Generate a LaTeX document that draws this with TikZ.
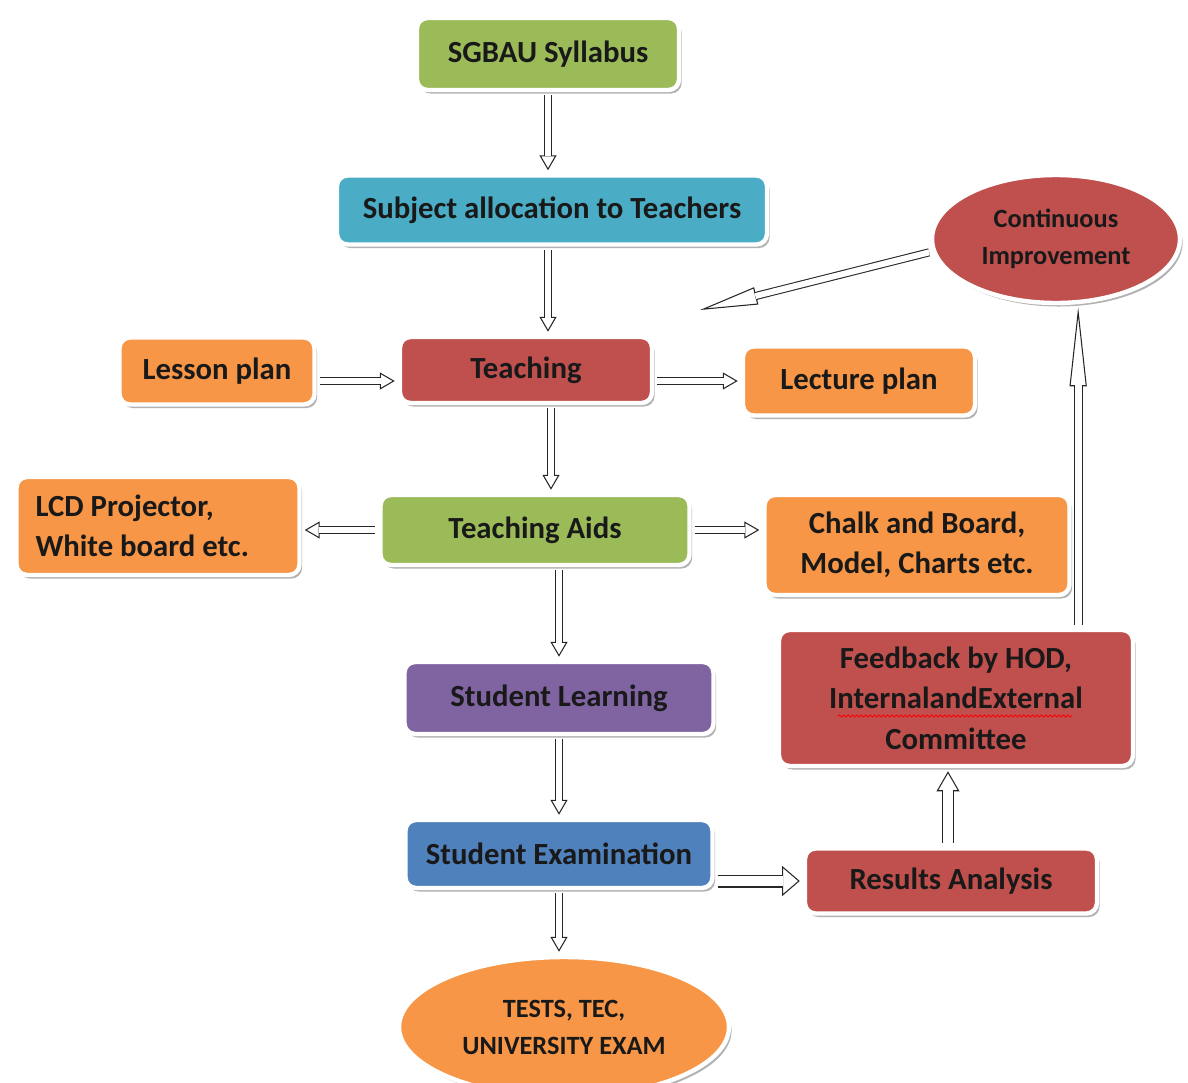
\documentclass[tikz,border=0pt]{standalone}
\usepackage{fontspec}
\setmainfont{Carlito}
\usepackage{xcolor}
\usepackage{tikz}
\usetikzlibrary{shapes,arrows.meta,positioning,calc,shadows,decorations.pathmorphing}

\definecolor{ogreen}{HTML}{9BBB59}
\definecolor{oaqua}{HTML}{4BACC6}
\definecolor{ored}{HTML}{C0504D}
\definecolor{oorange}{HTML}{F79646}
\definecolor{opurple}{HTML}{8064A2}
\definecolor{oblue}{HTML}{4F81BD}

\begin{document}
\begin{tikzpicture}[x=0.02cm,y=-0.02cm,
  box/.style={draw=white, line width=2.5pt, rounded corners=6pt, text=black!90,
    font=\fontsize{17.5}{23}\selectfont\bfseries, align=center, inner sep=2pt, outer sep=3pt,
    drop shadow={shadow xshift=1.5pt, shadow yshift=-2pt, opacity=0.3, fill=black}},
  oval/.style={box, ellipse, sharp corners, inner sep=0pt, font=\fontsize{15}{21}\selectfont\bfseries},
  blk/.style args={#1/#2/#3}{draw=none,
    postaction={draw, line width=0.6pt, black!85, -{Triangle[length=#3, width=#2, fill=white]}},
    postaction={draw, line width=0.6pt, black!85, double=white, double distance=#1, shorten >=#3-0.5pt}},
  blk/.default=3.9pt/9.7pt/8.5pt]
\useasboundingbox (0,0) rectangle (1188,1083);

% Main column
\node[box, fill=ogreen, minimum width=5.24cm, minimum height=1.44cm] (syl) at (548,54) {SGBAU Syllabus};
\node[box, fill=oaqua, minimum width=8.6cm, minimum height=1.38cm] (subj) at (552,210) {Subject allocation to Teachers};
\node[box, fill=ored, minimum width=5.04cm, minimum height=1.32cm] (teach) at (526,370) {Teaching};
\node[box, fill=ogreen, minimum width=6.18cm, minimum height=1.4cm] (aids) at (535,530) {Teaching Aids};
\node[box, fill=opurple, minimum width=6.18cm, minimum height=1.44cm] (learn) at (559,698) {Student Learning};
\node[box, fill=oblue, minimum width=6.14cm, minimum height=1.36cm] (exam) at (559,854) {Student Examination};
\node[oval, fill=oorange, minimum width=6.6cm, minimum height=2.8cm] (tests) at (564,1027) {TESTS, TEC,\\UNIVERSITY EXAM};

% Side boxes
\node[box, fill=oorange, minimum width=3.9cm, minimum height=1.34cm] (lesson) at (217,371) {Lesson plan};
\node[box, fill=oorange, minimum width=4.64cm, minimum height=1.38cm] (lecture) at (859,381) {Lecture plan};
\node[box, fill=oorange, minimum height=1.96cm, text width=4.9cm, inner xsep=0.38cm, align=flush left] (lcd) at (158,526) {LCD Projector,\\White board etc.};
\node[box, fill=oorange, minimum width=6.1cm, minimum height=2cm] (chalk) at (917,545) {Chalk and Board,\\Model, Charts etc.};

% Feedback loop
\node[box, fill=ored, minimum width=5.84cm, minimum height=1.3cm] (result) at (951,881) {Results Analysis};
\node[box, fill=ored, minimum width=7.08cm, minimum height=2.72cm] (feed) at (956,698) {Feedback by HOD,\\InternalandExternal\\Committee};
\node[oval, fill=ored, minimum width=4.96cm, minimum height=2.56cm] (cont) at (1056,239) {Continuous\\Improvement};
\coordinate (back) at (700,310);
\draw[red, line width=0.5pt, decorate, decoration={snake, amplitude=0.6pt, segment length=2.5pt}]
  ($(feed.center)+(-118,18)$) -- ($(feed.center)+(116,18)$);

% Arrows
\draw[blk] (syl.south) -- (subj.north -| syl.south);
\draw[blk] (subj.south -| syl.south) -- (teach.north -| syl.south);
\draw[blk] (lesson.east |- lecture.west) -- (teach.west |- lecture.west);
\draw[blk] (teach.east |- lecture.west) -- (lecture.west);
\draw[blk] ($(teach.south)+(25,0)$) -- ($(aids.north)+(16,0)$);
\draw[blk] (aids.west) -- (lcd.east |- aids.west);
\draw[blk] (aids.east) -- (chalk.west |- aids.east);
\draw[blk] (aids.south -| learn.north) -- (learn.north);
\draw[blk] (learn.south) -- (exam.north);
\draw[blk] (exam.south) -- (tests.north -| exam.south);
\draw[blk=6.2pt/17pt/10pt] (exam.east |- result.west) -- (result.west);
\draw[blk=5.6pt/13pt/11.4pt] (result.north -| 948,0) -- (feed.south -| 948,0);
\draw[blk=4pt/9.7pt/45pt] (feed.north -| cont.-72) -- (cont.-72);
\draw[blk=3.4pt/10pt/33pt] (cont.186) -- (back);

\end{tikzpicture}
\end{document}
